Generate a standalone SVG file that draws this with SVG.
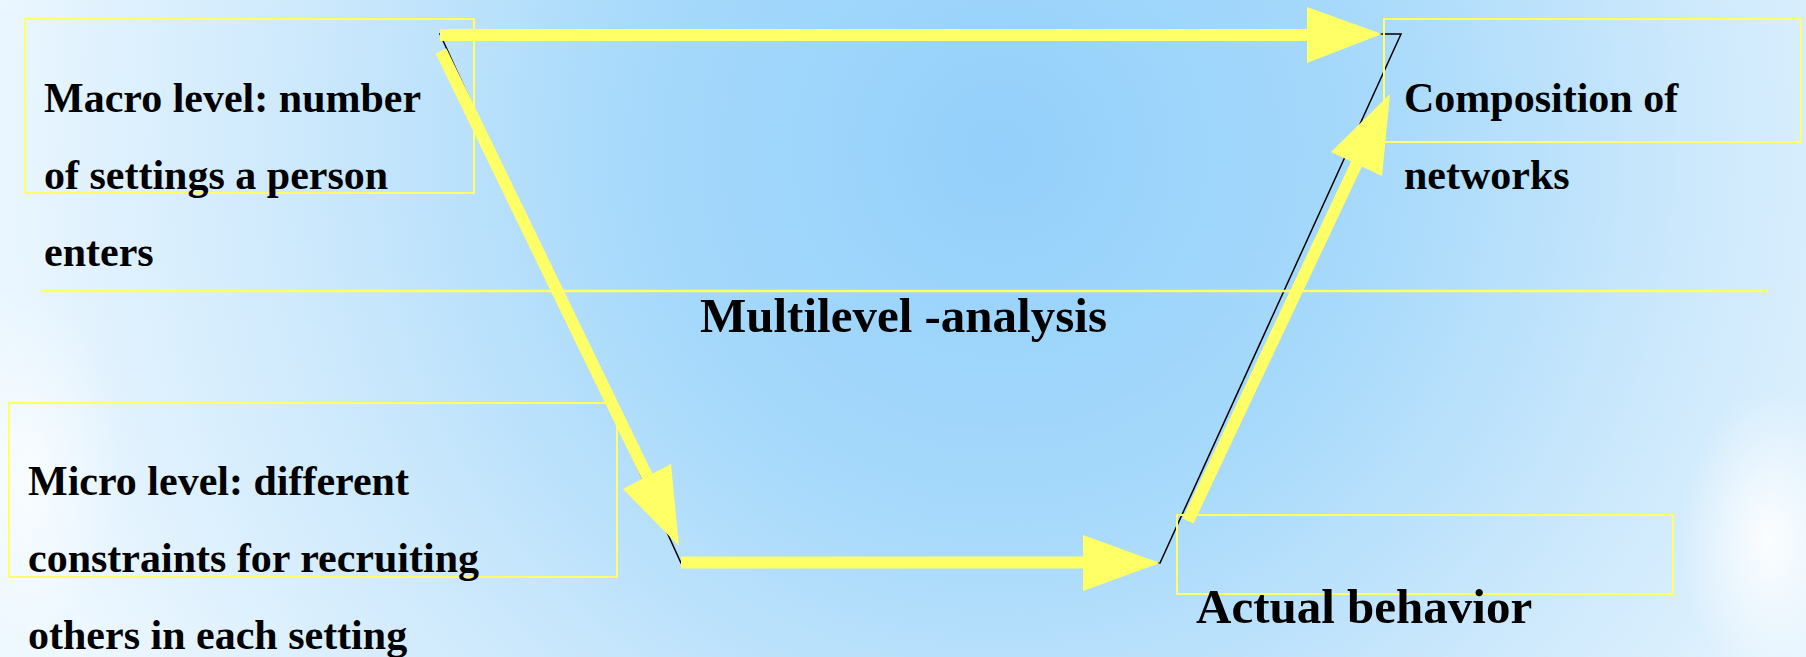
<svg xmlns="http://www.w3.org/2000/svg" width="1806" height="657" viewBox="0 0 1806 657">
  <defs>
    <radialGradient id="bg" gradientUnits="userSpaceOnUse" cx="1000" cy="150" r="1050">
      <stop offset="0" stop-color="#94d0fb"/>
      <stop offset="0.35" stop-color="#a6d9fb"/>
      <stop offset="0.65" stop-color="#cbe8fc"/>
      <stop offset="1" stop-color="#eef8ff"/>
    </radialGradient>
    <radialGradient id="glow" cx="0.5" cy="0.5" r="0.5">
      <stop offset="0" stop-color="#ffffff" stop-opacity="0.9"/>
      <stop offset="1" stop-color="#ffffff" stop-opacity="0"/>
    </radialGradient>
    <style>
      .box { fill: none; stroke: #ffff66; stroke-width: 2; }
      .lbl { font-family: "Liberation Serif", "Times New Roman", serif; font-weight: bold; fill: #000; }
      .s42 { font-size: 42px; }
      .s49 { font-size: 49px; }
      .shaft { stroke: #ffff66; stroke-width: 12; fill: none; }
      .head { fill: #ffff66; stroke: none; }
    </style>
  </defs>
  <rect x="0" y="0" width="1806" height="657" fill="url(#bg)"/>
  <ellipse cx="1770" cy="540" rx="90" ry="150" fill="url(#glow)"/>
  <ellipse cx="30" cy="470" rx="90" ry="180" fill="url(#glow)" opacity="0.7"/>

  <g id="frame">
    <polygon points="440,34 1401,34 1160,563 681,563" fill="none" stroke="#000" stroke-width="1.5"/>
    <line x1="41" y1="291" x2="1768" y2="291" stroke="#ffff66" stroke-width="2.5"/>
  </g>

  <g id="connectors">
    <line class="shaft" x1="440" y1="35" x2="1310" y2="35"/>
    <polygon class="head" points="1307,7 1382,34 1307,63"/>
    <line class="shaft" x1="441" y1="51" x2="648" y2="478" stroke-width="11"/>
    <polygon class="head" points="623,489 671,464 679,546"/>
    <line class="shaft" x1="681" y1="562.5" x2="1086" y2="562.5"/>
    <polygon class="head" points="1083,535 1160,563 1083,591"/>
    <line class="shaft" x1="1188" y1="521" x2="1357" y2="163" stroke-width="11"/>
    <polygon class="head" points="1331,152 1390,94 1382,176"/>
  </g>

  <g id="macro">
    <rect class="box" x="25" y="19" width="449" height="174"/>
    <text class="lbl s42" x="44" y="112">Macro level: number</text>
    <text class="lbl s42" x="44" y="189">of settings a person</text>
    <text class="lbl s42" x="44" y="266">enters</text>
  </g>

  <g id="composition">
    <rect class="box" x="1384" y="19" width="417" height="123"/>
    <text class="lbl s42" x="1404" y="112">Composition of</text>
    <text class="lbl s42" x="1404" y="189">networks</text>
  </g>

  <g id="multilevel">
    <text class="lbl s49" x="700" y="332">Multilevel -analysis</text>
  </g>

  <g id="micro">
    <rect class="box" x="9" y="403" width="608" height="174"/>
    <text class="lbl s42" x="28" y="495">Micro level: different</text>
    <text class="lbl s42" x="28" y="572">constraints for recruiting</text>
    <text class="lbl s42" x="28" y="649">others in each setting</text>
  </g>

  <g id="actual">
    <rect class="box" x="1177" y="515" width="496" height="79"/>
    <text class="lbl s49" x="1196" y="623">Actual behavior</text>
  </g>
</svg>
